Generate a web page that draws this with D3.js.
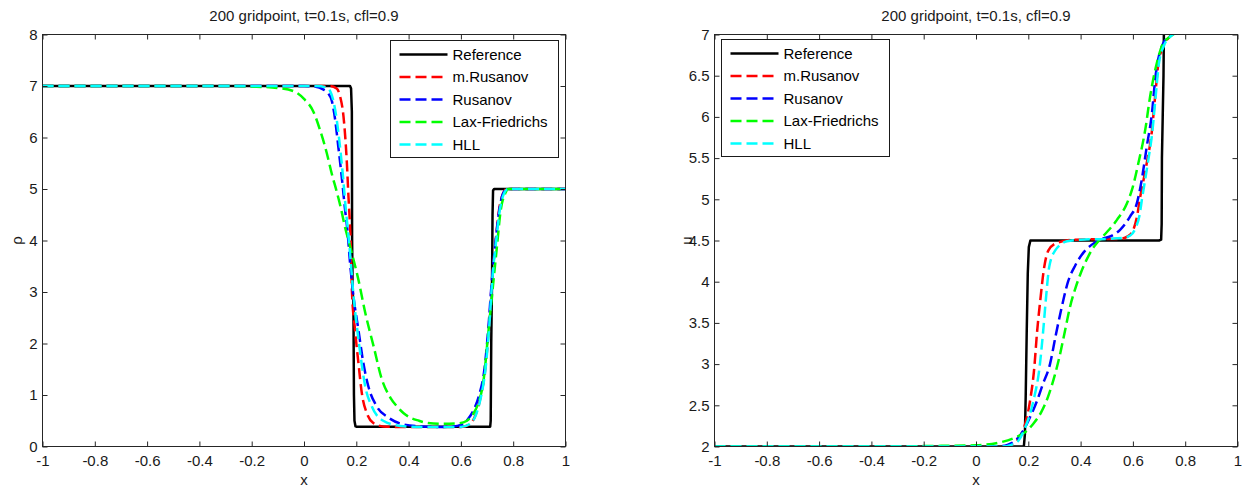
<!DOCTYPE html>
<html>
<head>
<meta charset="utf-8">
<script src="https://cdn.jsdelivr.net/npm/d3@7"></script>
<style>
  html, body { margin: 0; padding: 0; background: #fff; }
  svg { display: block; }
  text { font-family: "Liberation Sans", Arial, sans-serif; }
</style>
</head>
<body>
<svg id="chart" width="1244" height="488"></svg>
<script>
// ---- data: solutions at t = 0.1 s on 200 grid points, cfl = 0.9 ----
const seriesNames = ["Reference", "m.Rusanov", "Rusanov", "Lax-Friedrichs", "HLL"];
const seriesColors = ["#000000", "#ff0000", "#0000ff", "#00ff00", "#00ffff"];

const xTicks = [-1, -0.8, -0.6, -0.4, -0.2, 0, 0.2, 0.4, 0.6, 0.8, 1];
const xTickLabels = ["-1", "-0.8", "-0.6", "-0.4", "-0.2", "0", "0.2", "0.4", "0.6", "0.8", "1"];
const rhoTicks = [0, 1, 2, 3, 4, 5, 6, 7, 8];
const rhoTickLabels = ["0", "1", "2", "3", "4", "5", "6", "7", "8"];
const uTicks = [2, 2.5, 3, 3.5, 4, 4.5, 5, 5.5, 6, 6.5, 7];
const uTickLabels = ["2", "2.5", "3", "3.5", "4", "4.5", "5", "5.5", "6", "6.5", "7"];

// density rho(x)
const rhoReference = [[-1,7],[0.176,7],[0.180,6.95],[0.183,6.5],[0.184,4.0],[0.186,3.0],[0.189,2.8],[0.191,1.0],[0.193,0.5],[0.197,0.39],[0.2,0.385],[0.712,0.385],[0.714,0.5],[0.716,2.0],[0.719,3.2],[0.721,4.5],[0.723,4.97],[0.727,5.0],[1,5]];
const rhoRusanovMod = [[-1,7],[0.10,7],[0.125,6.95],[0.138,6.8],[0.151,6.41],[0.164,5.5],[0.170,4.86],[0.176,4.28],[0.179,3.89],[0.183,3.05],[0.195,2.27],[0.208,1.63],[0.221,1.04],[0.240,0.65],[0.264,0.46],[0.303,0.39],[0.35,0.38],[0.60,0.38],[0.63,0.42],[0.655,0.6],[0.675,0.95],[0.693,1.5],[0.707,2.3],[0.72,3.3],[0.733,4.0],[0.746,4.6],[0.76,4.9],[0.775,5.0],[1,5]];
const rhoRusanov = [[-1,7],[0.0,7],[0.04,6.99],[0.075,6.93],[0.092,6.86],[0.106,6.72],[0.119,6.35],[0.131,5.83],[0.144,5.25],[0.157,4.6],[0.166,4.2],[0.176,3.57],[0.189,2.92],[0.208,2.27],[0.227,1.62],[0.246,1.17],[0.278,0.78],[0.323,0.56],[0.38,0.43],[0.45,0.39],[0.52,0.38],[0.57,0.39],[0.60,0.42],[0.625,0.52],[0.65,0.72],[0.67,1.0],[0.69,1.5],[0.705,2.3],[0.718,3.2],[0.732,3.95],[0.747,4.6],[0.762,4.92],[0.778,5.0],[1,5]];
const rhoLaxFriedrichs = [[-1,7],[-0.3,7],[-0.2,6.99],[-0.1,6.96],[-0.04,6.9],[0,6.75],[0.036,6.5],[0.061,6.15],[0.087,5.7],[0.106,5.3],[0.125,4.95],[0.14,4.65],[0.155,4.3],[0.176,3.89],[0.208,3.24],[0.234,2.6],[0.266,1.95],[0.298,1.30],[0.33,0.95],[0.355,0.78],[0.38,0.65],[0.406,0.56],[0.44,0.5],[0.47,0.46],[0.53,0.44],[0.59,0.45],[0.623,0.5],[0.645,0.62],[0.662,0.78],[0.687,1.30],[0.706,2.27],[0.725,3.24],[0.738,3.89],[0.751,4.54],[0.77,4.92],[0.782,5.0],[1,5]];
const rhoHLL = [[-1,7],[0.05,7],[0.085,6.97],[0.10,6.9],[0.113,6.7],[0.125,6.35],[0.137,5.85],[0.149,5.25],[0.16,4.6],[0.168,4.2],[0.177,3.7],[0.188,3.0],[0.203,2.3],[0.218,1.7],[0.234,1.17],[0.259,0.78],[0.303,0.5],[0.368,0.4],[0.43,0.38],[0.60,0.38],[0.635,0.44],[0.658,0.62],[0.677,0.97],[0.694,1.5],[0.708,2.3],[0.721,3.3],[0.735,4.0],[0.749,4.6],[0.764,4.9],[0.78,5.0],[1,5]];

// velocity u(x)
const uReference = [[-1,2],[0.183,2],[0.187,2.15],[0.19,2.6],[0.194,3.4],[0.198,4.1],[0.202,4.42],[0.208,4.5],[0.70,4.5],[0.708,4.51],[0.71,4.7],[0.711,5.5],[0.714,6.0],[0.717,6.5],[0.719,7.2]];
const uRusanovMod = [[-1,2],[0.10,2],[0.13,2.01],[0.156,2.07],[0.184,2.23],[0.207,2.56],[0.223,2.96],[0.233,3.37],[0.246,3.78],[0.261,4.18],[0.277,4.38],[0.309,4.47],[0.372,4.51],[0.45,4.515],[0.55,4.52],[0.58,4.55],[0.60,4.62],[0.615,4.78],[0.628,5.03],[0.641,5.24],[0.653,5.44],[0.673,5.84],[0.685,6.25],[0.698,6.66],[0.717,6.86],[0.743,6.98],[0.77,7.02],[1,7.02]];
const uRusanov = [[-1,2],[0.08,2],[0.12,2.02],[0.150,2.07],[0.182,2.2],[0.21,2.38],[0.233,2.55],[0.255,2.75],[0.283,3.0],[0.305,3.35],[0.325,3.65],[0.352,4.0],[0.38,4.2],[0.41,4.35],[0.443,4.45],[0.475,4.51],[0.52,4.56],[0.551,4.63],[0.589,4.79],[0.615,4.95],[0.634,5.24],[0.653,5.64],[0.673,6.05],[0.685,6.45],[0.711,6.86],[0.74,6.98],[0.77,7.02],[1,7.02]];
const uLaxFriedrichs = [[-1,2],[-0.3,2],[-0.2,2.005],[0.0,2.015],[0.092,2.05],[0.150,2.11],[0.19,2.18],[0.22,2.28],[0.25,2.42],[0.275,2.6],[0.30,2.85],[0.32,3.1],[0.34,3.4],[0.36,3.7],[0.38,3.92],[0.40,4.1],[0.425,4.28],[0.45,4.42],[0.47,4.5],[0.50,4.6],[0.539,4.75],[0.577,4.95],[0.596,5.11],[0.621,5.44],[0.647,5.84],[0.666,6.25],[0.692,6.66],[0.711,6.86],[0.74,6.97],[0.775,7.02],[1,7.02]];
const uHLL = [[-1,2],[0.10,2],[0.135,2.02],[0.162,2.07],[0.188,2.23],[0.220,2.56],[0.243,2.96],[0.256,3.37],[0.267,3.78],[0.280,4.18],[0.303,4.38],[0.348,4.49],[0.40,4.51],[0.50,4.52],[0.56,4.53],[0.59,4.56],[0.61,4.65],[0.625,4.80],[0.636,5.03],[0.647,5.24],[0.658,5.46],[0.675,5.84],[0.687,6.25],[0.70,6.66],[0.718,6.86],[0.745,6.98],[0.77,7.02],[1,7.02]];

const titleText = "200 gridpoint, t=0.1s, cfl=0.9";

// ---- drawing ----
const svg = d3.select("#chart");
const FONT = 15;
const DASH = "11,5";
const LW = 2.5;

function panel(cfg) {
  const { left, right, top, bottom } = cfg;
  const x = d3.scaleLinear().domain([-1, 1]).range([left, right]);
  const y = d3.scaleLinear().domain(cfg.yDomain).range([bottom, top]);
  const g = svg.append("g");

  // clip region for the curves
  const clipId = "clip-" + cfg.id;
  svg.append("clipPath").attr("id", clipId)
    .append("rect").attr("x", left).attr("y", top)
    .attr("width", right - left).attr("height", bottom - top);

  const curves = g.append("g").attr("clip-path", `url(#${clipId})`);
  cfg.series.forEach((data, i) => {
    const line = d3.line()
      .x(d => x(d[0])).y(d => y(d[1]))
      .curve(i === 0 ? d3.curveLinear : d3.curveMonotoneX);
    curves.append("path")
      .datum(data)
      .attr("d", line)
      .attr("fill", "none")
      .attr("stroke", seriesColors[i])
      .attr("stroke-width", LW)
      .attr("stroke-linejoin", "round")
      .attr("stroke-dasharray", i === 0 ? null : DASH);
  });

  // axes with inward ticks on all four sides
  const xFmt = d => xTickLabels[xTicks.indexOf(d)];
  const yFmt = d => cfg.yTickLabels[cfg.yTicks.indexOf(d)];
  const styleAxis = sel => {
    sel.select(".domain").remove();
    sel.selectAll(".tick line").attr("stroke", "#262626");
    sel.selectAll(".tick text").attr("fill", "#1a1a1a").style("font-size", FONT + "px");
  };
  g.append("g").attr("transform", `translate(0,${bottom})`)
    .call(d3.axisBottom(x).tickValues(xTicks).tickFormat(xFmt).tickSize(-5).tickPadding(9))
    .call(styleAxis);
  g.append("g").attr("transform", `translate(0,${top})`)
    .call(d3.axisTop(x).tickValues(xTicks).tickFormat("").tickSize(-5))
    .call(styleAxis);
  g.append("g").attr("transform", `translate(${left},0)`)
    .call(d3.axisLeft(y).tickValues(cfg.yTicks).tickFormat(yFmt).tickSize(-5).tickPadding(5))
    .call(styleAxis);
  g.append("g").attr("transform", `translate(${right},0)`)
    .call(d3.axisRight(y).tickValues(cfg.yTicks).tickFormat("").tickSize(-5))
    .call(styleAxis);

  // frame
  g.append("rect").attr("x", left).attr("y", top)
    .attr("width", right - left).attr("height", bottom - top)
    .attr("fill", "none").attr("stroke", "#262626").attr("stroke-width", 1);

  // title and axis labels
  const cx = (left + right) / 2;
  g.append("text").attr("x", cx).attr("y", 21).attr("text-anchor", "middle")
    .style("font-size", FONT + "px").attr("fill", "#1a1a1a").text(titleText);
  g.append("text").attr("x", cx).attr("y", 485).attr("text-anchor", "middle")
    .style("font-size", FONT + "px").attr("fill", "#1a1a1a").text("x");
  g.append("text")
    .attr("transform", `translate(${cfg.yLabelX},${(top + bottom) / 2}) rotate(-90)`)
    .attr("text-anchor", "middle")
    .style("font-size", FONT + "px").attr("fill", "#1a1a1a").text(cfg.yLabel);

  // legend
  const lg = g.append("g").attr("transform", `translate(${cfg.legendX},${cfg.legendY})`);
  lg.append("rect").attr("width", 168).attr("height", 117)
    .attr("fill", "#fff").attr("stroke", "#1a1a1a").attr("stroke-width", 1);
  const rowY = [14, 36.5, 59, 81.5, 104];
  seriesNames.forEach((name, i) => {
    lg.append("line").attr("x1", 9).attr("x2", 57).attr("y1", rowY[i]).attr("y2", rowY[i])
      .attr("stroke", seriesColors[i]).attr("stroke-width", LW)
      .attr("stroke-dasharray", i === 0 ? null : DASH);
    lg.append("text").attr("x", 62).attr("y", rowY[i]).attr("dy", "0.35em")
      .style("font-size", FONT + "px").attr("fill", "#000").text(name);
  });
}

panel({
  id: "rho", left: 42.5, right: 565.5, top: 34.5, bottom: 446.5,
  yDomain: [0, 8], yTicks: rhoTicks, yTickLabels: rhoTickLabels,
  yLabel: "ρ", yLabelX: 22,
  legendX: 390.5, legendY: 40.5,
  series: [rhoReference, rhoRusanovMod, rhoRusanov, rhoLaxFriedrichs, rhoHLL]
});

panel({
  id: "u", left: 714.5, right: 1237.5, top: 34.5, bottom: 446.5,
  yDomain: [2, 7], yTicks: uTicks, yTickLabels: uTickLabels,
  yLabel: "u", yLabelX: 692,
  legendX: 721.5, legendY: 39.5,
  series: [uReference, uRusanovMod, uRusanov, uLaxFriedrichs, uHLL]
});
</script>
</body>
</html>
